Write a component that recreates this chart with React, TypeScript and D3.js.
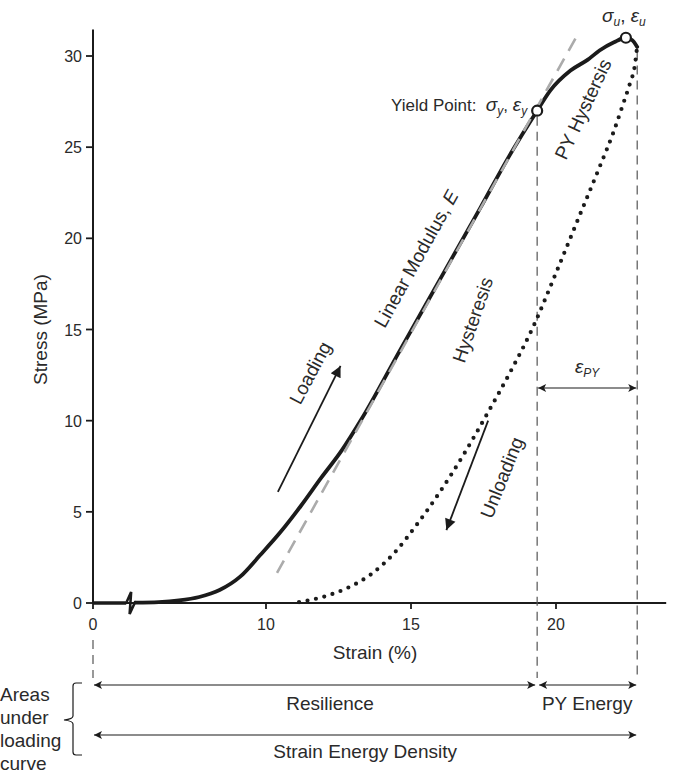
import React from "react";
import * as d3 from "d3";

const W = 676;
const H = 774;

// ---- data ----
const X_TICKS = [0, 10, 15, 20];
const Y_TICKS = [0, 5, 10, 15, 20, 25, 30];

// loading curve before the axis break (flat)
const PRE_STRAIN = [0, 4.3];
const PRE_STRESS = [0, 0];
const BREAK_STRAIN = 5.0;

// loading curve after the break
const LOAD_STRAIN = [5.5, 6.3, 7.0, 7.7, 8.4, 9.1, 9.8, 10.5, 11.2, 11.9, 12.6, 13.3, 14.6, 16.0, 17.4, 18.4, 19.35, 19.8, 20.5, 21.1, 21.5, 22.0, 22.41, 22.62, 22.8];
const LOAD_STRESS = [0.02, 0.05, 0.14, 0.33, 0.71, 1.43, 2.63, 3.89, 5.32, 6.86, 8.34, 10.1, 13.8, 17.75, 21.7, 24.55, 27.0, 28.1, 29.2, 29.8, 30.3, 30.75, 31.0, 30.88, 30.5];

// unloading curve (dotted)
const UNLOAD_STRAIN = [11.14, 12.0, 12.8, 13.6, 14.4, 15.2, 16.0, 16.8, 17.6, 18.4, 19.2, 20.0, 20.8, 21.5, 22.0, 22.3, 22.55, 22.72, 22.79];
const UNLOAD_STRESS = [0.05, 0.35, 0.82, 1.55, 2.7, 4.3, 6.1, 8.1, 10.3, 12.6, 15.1, 18.1, 21.2, 23.9, 25.9, 27.3, 28.5, 29.5, 30.4];

// linear modulus line
const MOD_STRAIN = [10.38, 20.72];
const MOD_STRESS = [1.65, 31.1];

// key points
const YIELD = { strain: 19.35, stress: 27.0 };
const ULT = { strain: 22.41, stress: 31.0 };
const END_STRAIN = 22.8;

const LOADING_ARROW = { from: [10.41, 6.1], to: [12.57, 13.0] };
const UNLOADING_ARROW = { from: [17.66, 10.0], to: [16.22, 4.0] };

const INK = "#1b1b1b";
const TXT = "#2a2a2a";
const FONT = "'Liberation Sans', Arial, sans-serif";

export default function App() {
  const x = d3.scaleLinear().domain([0, 5.5, 24]).range([93, 135.5, 672]);
  const y = d3.scaleLinear().domain([0, 30]).range([603, 56]);

  const line = d3
    .line<[number, number]>()
    .x((d) => x(d[0]))
    .y((d) => y(d[1]));
  const smooth = d3
    .line<[number, number]>()
    .x((d) => x(d[0]))
    .y((d) => y(d[1]))
    .curve(d3.curveMonotoneX);

  const prePts = PRE_STRAIN.map((s, i) => [s, PRE_STRESS[i]] as [number, number]);
  const loadPts = LOAD_STRAIN.map((s, i) => [s, LOAD_STRESS[i]] as [number, number]);
  const unloadPts = UNLOAD_STRAIN.map((s, i) => [s, UNLOAD_STRESS[i]] as [number, number]);
  const modPts = MOD_STRAIN.map((s, i) => [s, MOD_STRESS[i]] as [number, number]);

  const bx = x(BREAK_STRAIN);
  const by = y(0);
  const breakPath = `M${x(PRE_STRAIN[1])},${by - 1} L${bx - 5},${by - 1} L${bx - 0.5},${by - 11} L${bx - 2},${by + 11} L${bx + 3.5},${by - 1} L${x(LOAD_STRAIN[0])},${by - 1}`;

  const x0 = x(0);
  const xY = x(YIELD.strain);
  const xE = x(END_STRAIN);
  const yArrow1 = 685;
  const yArrow2 = 735;
  const dashBottom = 678;

  const rot = (cx: number, cy: number, a: number) => `translate(${cx},${cy}) rotate(${a})`;

  return (
    <svg
      width={W}
      height={H}
      viewBox={`0 0 ${W} ${H}`}
      style={{ position: "absolute", left: 0, top: 0, background: "#fff" }}
      fontFamily={FONT}
    >
      <defs>
        <marker id="ah" viewBox="0 0 10 10" refX="10" refY="5" markerWidth="10" markerHeight="8" markerUnits="userSpaceOnUse" orient="auto-start-reverse">
          <path d="M0,0 L10,5 L0,10 L2.5,5 Z" fill={INK} />
        </marker>
        <marker id="ahBig" viewBox="0 0 10 10" refX="10" refY="5" markerWidth="14" markerHeight="11" markerUnits="userSpaceOnUse" orient="auto-start-reverse">
          <path d="M0,0 L10,5 L0,10 Z" fill={INK} />
        </marker>
      </defs>

      {/* axes */}
      <line x1={x0} x2={x(23.8)} y1={y(0)} y2={y(0)} stroke={INK} strokeWidth={2} />
      <line x1={x0} x2={x0} y1={y(0)} y2={y(31.45)} stroke={INK} strokeWidth={2} />
      {X_TICKS.map((t) => (
        <g key={"xt" + t}>
          <line x1={x(t)} x2={x(t)} y1={y(0)} y2={y(0) + 6} stroke={INK} strokeWidth={1.8} />
          <text x={x(t)} y={630} textAnchor="middle" fontSize={16} fill={TXT}>
            {t}
          </text>
        </g>
      ))}
      {Y_TICKS.map((t) => (
        <g key={"yt" + t}>
          <line x1={x0 - 7} x2={x0} y1={y(t)} y2={y(t)} stroke={INK} strokeWidth={1.8} />
          <text x={82} y={y(t) + 6} textAnchor="end" fontSize={16} fill={TXT}>
            {t}
          </text>
        </g>
      ))}
      <text x={375} y={659} textAnchor="middle" fontSize={19} fill={TXT}>
        Strain (%)
      </text>
      <text transform={rot(47, y(15), -90)} textAnchor="middle" fontSize={19} fill={TXT}>
        Stress (MPa)
      </text>

      {/* vertical dashed guides */}
      <line x1={x0} x2={x0} y1={640} y2={dashBottom} stroke="#555" strokeWidth={1.2} strokeDasharray="9 6" />
      <line x1={xY} x2={xY} y1={y(YIELD.stress) + 6} y2={dashBottom} stroke="#555" strokeWidth={1.2} strokeDasharray="9 6" />
      <line x1={xE} x2={xE} y1={y(30.3)} y2={dashBottom} stroke="#555" strokeWidth={1.2} strokeDasharray="9 6" />

      {/* unloading dotted */}
      <path d={smooth(unloadPts) || ""} fill="none" stroke={INK} strokeWidth={4.2} strokeLinecap="round" strokeDasharray="0 8.6" />

      {/* loading curve */}
      <path d={line(prePts) || ""} fill="none" stroke={INK} strokeWidth={3.5} />
      <path d={breakPath} fill="none" stroke={INK} strokeWidth={2.6} strokeLinejoin="miter" />
      <path d={smooth(loadPts) || ""} fill="none" stroke={INK} strokeWidth={3.8} strokeLinecap="round" strokeLinejoin="round" />

      {/* linear modulus */}
      <path d={line(modPts) || ""} fill="none" stroke="#ababab" strokeWidth={2.6} strokeDasharray="14 9" />

      {/* key points */}
      <circle cx={xY} cy={y(YIELD.stress)} r={5} fill="#fff" stroke={INK} strokeWidth={2.2} />
      <circle cx={x(ULT.strain)} cy={y(ULT.stress)} r={5} fill="#fff" stroke={INK} strokeWidth={2.2} />

      {/* labels near points */}
      <text x={xY - 10} y={y(YIELD.stress)} textAnchor="end" fontSize={17} fill={TXT}>
        Yield Point:{"\u00a0\u00a0"}
        <tspan fontStyle="italic" fontSize={19}>σ</tspan>
        <tspan fontStyle="italic" fontSize={12} dy={4}>y</tspan>
        <tspan dy={-4}>, </tspan>
        <tspan fontStyle="italic" fontSize={19}>ε</tspan>
        <tspan fontStyle="italic" fontSize={12} dy={4}>y</tspan>
      </text>
      <text x={x(ULT.strain) - 2} y={22} textAnchor="middle" fontSize={19} fill={TXT}>
        <tspan fontStyle="italic">σ</tspan>
        <tspan fontStyle="italic" fontSize={12} dy={4}>u</tspan>
        <tspan dy={-4}>, </tspan>
        <tspan fontStyle="italic">ε</tspan>
        <tspan fontStyle="italic" fontSize={12} dy={4}>u</tspan>
      </text>

      {/* rotated annotations */}
      <text transform={rot(422, 262, -61)} textAnchor="middle" fontSize={19} fill={TXT}>
        Linear Modulus, <tspan fontStyle="italic">E</tspan>
      </text>
      <text transform={rot(479, 322, -71)} textAnchor="middle" fontSize={19} fill={TXT}>
        Hysteresis
      </text>
      <text transform={rot(589, 112, -65)} textAnchor="middle" fontSize={19} fill={TXT}>
        PY Hystersis
      </text>
      <text transform={rot(316, 376, -62)} textAnchor="middle" fontSize={19} fill={TXT}>
        Loading
      </text>
      <text transform={rot(508, 480, -68)} textAnchor="middle" fontSize={19} fill={TXT}>
        Unloading
      </text>

      {/* direction arrows */}
      <line
        x1={x(LOADING_ARROW.from[0])}
        y1={y(LOADING_ARROW.from[1])}
        x2={x(LOADING_ARROW.to[0])}
        y2={y(LOADING_ARROW.to[1])}
        stroke={INK}
        strokeWidth={1.8}
        markerEnd="url(#ahBig)"
      />
      <line
        x1={x(UNLOADING_ARROW.from[0])}
        y1={y(UNLOADING_ARROW.from[1])}
        x2={x(UNLOADING_ARROW.to[0])}
        y2={y(UNLOADING_ARROW.to[1])}
        stroke={INK}
        strokeWidth={1.8}
        markerEnd="url(#ahBig)"
      />

      {/* eps_PY */}
      <line x1={xY + 1} x2={xE - 1} y1={388} y2={388} stroke={INK} strokeWidth={1.2} markerStart="url(#ah)" markerEnd="url(#ah)" />
      <text x={(xY + xE) / 2} y={373} textAnchor="middle" fontSize={19} fill={TXT}>
        <tspan fontStyle="italic">ε</tspan>
        <tspan fontStyle="italic" fontSize={12} dy={4}>PY</tspan>
      </text>

      {/* bottom energy arrows */}
      <line x1={x0 + 1} x2={xY - 2} y1={yArrow1} y2={yArrow1} stroke={INK} strokeWidth={1.2} markerStart="url(#ah)" markerEnd="url(#ah)" />
      <line x1={xY + 2} x2={xE - 1} y1={yArrow1} y2={yArrow1} stroke={INK} strokeWidth={1.2} markerStart="url(#ah)" markerEnd="url(#ah)" />
      <line x1={x0 + 1} x2={xE - 1} y1={yArrow2} y2={yArrow2} stroke={INK} strokeWidth={1.2} markerStart="url(#ah)" markerEnd="url(#ah)" />
      <text x={(x0 + xY) / 2 + 15} y={710} textAnchor="middle" fontSize={19} fill={TXT}>
        Resilience
      </text>
      <text x={(xY + xE) / 2} y={710} textAnchor="middle" fontSize={19} fill={TXT}>
        PY Energy
      </text>
      <text x={(x0 + xE) / 2} y={758} textAnchor="middle" fontSize={19} fill={TXT}>
        Strain Energy Density
      </text>

      {/* left brace + label */}
      <path
        d={`M82,${yArrow1 - 2} L76,${yArrow1 - 2} Q73,${yArrow1 - 2} 73,${yArrow1 + 1} L73,716 Q73,719 64,720 Q73,721 73,724 L73,${yArrow2 + 17} Q73,${yArrow2 + 20} 76,${yArrow2 + 20} L82,${yArrow2 + 20}`}
        fill="none"
        stroke={INK}
        strokeWidth={1.2}
      />
      <text x={0} fontSize={19} fill={TXT}>
        <tspan x={0} y={701}>Areas</tspan>
        <tspan x={0} y={724}>under</tspan>
        <tspan x={0} y={747}>loading</tspan>
        <tspan x={0} y={770}>curve</tspan>
      </text>
    </svg>
  );
}
